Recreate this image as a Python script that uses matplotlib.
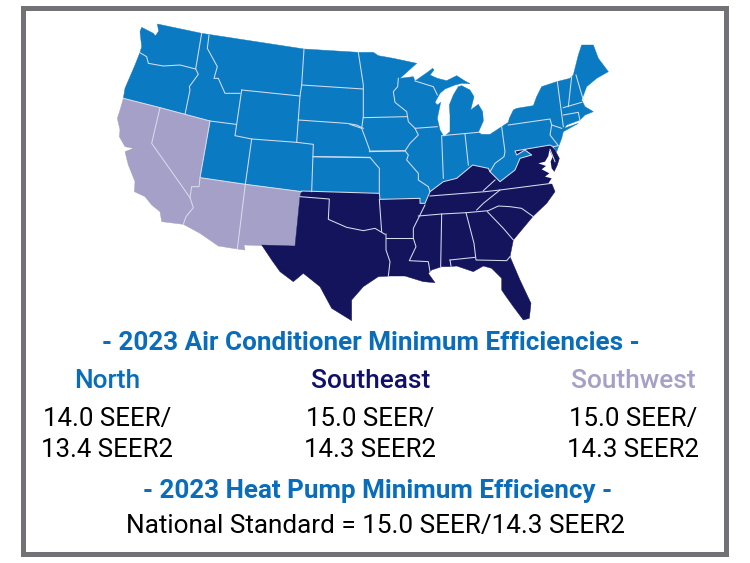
import matplotlib
matplotlib.use("Agg")
import matplotlib.pyplot as plt
from matplotlib.patches import Polygon, Rectangle

plt.rcParams['font.family'] = ['Roboto', 'DejaVu Sans']

NORTH_COLOR = '#0a7bc2'
SOUTHEAST_COLOR = '#13145c'
SOUTHWEST_COLOR = '#a5a0c8'
HEAD_COLOR = '#0a6dbb'
FRAME_COLOR = '#717176'
LINE_COLOR = '#d5dcec'

REGIONS = ['North', 'Southeast', 'Southwest']
REGION_COLORS = [HEAD_COLOR, '#10106a', SOUTHWEST_COLOR]
SEER = ['14.0 SEER/', '15.0 SEER/', '15.0 SEER/']
SEER2 = ['13.4 SEER2', '14.3 SEER2', '14.3 SEER2']
TITLE_AC = '- 2023 Air Conditioner Minimum Efficiencies -'
TITLE_HP = '- 2023 Heat Pump Minimum Efficiency -'
NATIONAL = 'National Standard = 15.0 SEER/14.3 SEER2'


def west(pts):
    return [(100 + x / 3, 15 + y / 3) for x, y in pts]

def east(pts):
    return [(350 + x / 3, 15 + y / 3) for x, y in pts]

def south(pts):
    return [(250 + x / 3, 140 + y / 3) for x, y in pts]

def bay(pts):
    return [(500 + x / 3, 130 + y / 3) for x, y in pts]


# boundary between north and southeast, going west from the Delaware bay
SHARED_N_SE = east([(610, 395), (600, 390), (495, 408), (500, 420), (525, 405), (545, 420), (510, 430),
                    (495, 465), (450, 500), (420, 470), (415, 460), (368, 450), (350, 465), (320, 490)]) + \
    south([(580, 125), (540, 155), (525, 190), (510, 190), (510, 175), (390, 178), (388, 160), (155, 153)])

NORTH_WEST = west([(605, 530), (436, 508), (300, 488), (330, 318), (180, 278), (70, 250), (75, 220), (90, 185),
                   (105, 150), (120, 112), (125, 95), (120, 50), (125, 37), (160, 55), (168, 65), (165, 85),
                   (150, 88), (150, 75), (165, 65), (176, 48), (172, 27), (305, 55), (612, 102), (775, 112)])
NORTH_EAST = east([(70, 112), (85, 122), (130, 130), (200, 145), (150, 190), (190, 185), (195, 198), (235, 170),
                   (248, 160), (252, 165), (240, 180), (262, 190), (290, 197), (320, 182), (345, 198), (360, 206),
                   (335, 205), (315, 210), (285, 222), (270, 235), (255, 262), (262, 270), (272, 262), (262, 310),
                   (270, 345), (282, 365), (300, 350), (300, 300), (298, 270), (310, 240), (325, 215), (335, 212),
                   (360, 225), (372, 245), (362, 285), (385, 268), (398, 290), (400, 318), (385, 352), (395, 358),
                   (420, 358), (455, 335), (475, 322), (478, 310), (490, 285), (500, 280), (550, 272), (560, 245),
                   (575, 215), (620, 200), (660, 190), (670, 180), (685, 120), (695, 90), (730, 90), (745, 130),
                   (775, 170), (740, 190), (710, 215), (695, 255), (705, 275), (730, 290), (705, 300), (690, 315),
                   (650, 330), (642, 340), (685, 325), (640, 350), (635, 370), (620, 410)])

SOUTHWEST = west([(70, 250), (60, 285), (52, 310), (60, 345), (58, 365), (75, 395), (100, 400), (75, 410), (85, 450),
                  (105, 500), (103, 530), (135, 545), (155, 570), (180, 590), (185, 620), (250, 628), (300, 655),
                  (355, 693), (412, 702), (435, 705), (432, 690), (485, 692), (585, 692), (600, 545), (605, 530),
                  (436, 508), (300, 488), (330, 318), (180, 278)])

SOUTHEAST_COAST = bay([(150, 45), (165, 60), (178, 85), (172, 105), (160, 130), (165, 160)]) + \
    south([(905, 130), (915, 155), (890, 190), (850, 228), (790, 300), (780, 350), (810, 420), (843, 490), (838, 535),
           (820, 540), (790, 500), (765, 465), (755, 450), (755, 415), (725, 385), (700, 378), (670, 395), (620, 378),
           (595, 380), (575, 380), (545, 390), (535, 400), (555, 428), (520, 425), (465, 408), (420, 408), (385, 410),
           (340, 440), (305, 480), (305, 542), (245, 505), (210, 440), (160, 400), (130, 425), (90, 395), (65, 360),
           (35, 315), (135, 318), (150, 170)])

CHESAPEAKE = bay([(148, 60), (145, 78), (135, 95), (115, 100), (138, 108), (125, 118), (148, 130), (135, 140),
                  (155, 145), (145, 160), (170, 165), (200, 140), (165, 128), (155, 115), (152, 95), (158, 80)])

BORDERS = [
    west([(118, 112), (140, 125), (145, 145), (190, 153), (240, 150), (287, 162)]),
    west([(305, 55), (287, 162), (295, 178), (268, 215), (270, 225), (255, 298)]),
    west([(327, 60), (322, 100), (352, 155), (342, 190), (355, 190), (375, 235), (420, 235)]),
    west([(425, 225), (405, 362), (455, 372), (590, 382), (640, 388), (635, 530)]),
    west([(425, 225), (600, 243)]),
    west([(612, 102), (605, 210), (600, 243), (590, 382)]),
    west([(605, 210), (790, 222)]),
    west([(595, 315), (740, 325), (770, 330), (790, 340)]),
    west([(455, 372), (436, 508)]),
    west([(330, 318), (408, 328)]),
    west([(640, 425), (810, 428)]),
    south([(190, 50), (360, 52), (375, 70), (388, 85), (388, 160)]),
    south([(358, 35), (465, 32), (475, 45), (470, 60), (505, 100), (505, 120), (535, 140), (540, 155)]),
    west([(180, 278), (155, 385), (270, 548), (280, 578), (258, 605), (250, 628)]),
    west([(300, 488), (297, 515), (275, 515), (270, 548)]),
    west([(436, 508), (412, 702)]),
    east([(25, 112), (40, 210), (40, 305), (35, 340), (50, 380), (60, 408), (165, 408), (180, 385), (205, 360), (195, 340)]),
    east([(0, 328), (35, 340)]),
    east([(40, 308), (170, 305)]),
    east([(145, 190), (143, 215), (130, 230), (135, 262), (170, 290), (175, 320), (195, 340), (262, 335)]),
    east([(275, 365), (280, 490)]),
    east([(275, 362), (385, 352)]),
    east([(345, 357), (355, 450)]),
    east([(455, 335), (465, 410), (462, 425), (435, 445), (420, 470)]),
    east([(195, 198), (250, 215), (262, 240)]),
    east([(475, 330), (600, 312), (605, 330), (635, 340)]),
    east([(622, 200), (640, 335)]),
    east([(665, 185), (655, 275)]),
    east([(678, 180), (700, 255)]),
    east([(640, 278), (695, 262)]),
    east([(640, 300), (685, 292), (690, 318)]),
    east([(605, 330), (600, 360), (625, 392), (610, 395)]),
    south([(150, 170), (238, 177), (235, 238), (290, 262), (340, 272), (375, 265), (405, 283)]),
    south([(388, 178), (395, 275)]),
    south([(408, 282), (408, 330), (420, 365), (415, 408)]),
    south([(408, 295), (490, 295)]),
    south([(525, 195), (510, 225), (490, 265), (490, 295), (498, 320), (478, 362), (535, 365), (540, 395)]),
    south([(540, 168), (705, 155), (750, 150), (905, 130)]),
    south([(700, 152), (735, 120)]),
    south([(750, 150), (700, 190), (680, 210)]),
    south([(505, 228), (575, 222), (650, 218), (715, 212), (745, 198), (780, 200), (815, 205), (850, 230)]),
    south([(575, 222), (572, 380)]),
    south([(648, 218), (672, 310), (678, 360), (770, 362), (780, 350)]),
    south([(600, 360), (675, 352)]),
    south([(600, 360), (603, 378)]),
    south([(712, 215), (760, 265), (790, 300)]),
    bay([(150, 58), (165, 95)]),
]

fig = plt.figure(figsize=(7.5, 5.63), dpi=100)
ax = fig.add_axes([0, 0, 1, 1])
ax.set_xlim(0, 750)
ax.set_ylim(563, 0)
ax.axis('off')

# frame
ax.add_patch(Rectangle((22.5, 7.5), 703, 546.5, fill=False, edgecolor=FRAME_COLOR, linewidth=3.6))

north = NORTH_WEST + NORTH_EAST + SHARED_N_SE
southeast = SOUTHEAST_COAST + SHARED_N_SE[::-1]
ax.add_patch(Polygon(north, closed=True, facecolor=NORTH_COLOR, edgecolor=NORTH_COLOR, linewidth=0.3))
ax.add_patch(Polygon(SOUTHWEST, closed=True, facecolor=SOUTHWEST_COLOR, edgecolor=SOUTHWEST_COLOR, linewidth=0.3))
ax.add_patch(Polygon(southeast, closed=True, facecolor=SOUTHEAST_COLOR, edgecolor=SOUTHEAST_COLOR, linewidth=0.3))
ax.add_patch(Polygon(CHESAPEAKE, closed=True, facecolor='white', edgecolor='none'))

for line in BORDERS:
    xs, ys = zip(*line)
    ax.plot(xs, ys, color=LINE_COLOR, linewidth=0.75, solid_joinstyle='round')

# shared edges of the three regions are state lines too
for line in [SHARED_N_SE, west([(605, 530), (436, 508), (300, 488), (330, 318), (180, 278), (70, 250)])]:
    xs, ys = zip(*line)
    ax.plot(xs, ys, color=LINE_COLOR, linewidth=0.75)

ax.text(370.5, 350, TITLE_AC, color=HEAD_COLOR, fontsize=18.7, fontweight='bold', ha='center', va='baseline')
col_x = [107, 370.5, 633]
for i in range(3):
    ax.text(col_x[i], 388, REGIONS[i], color=REGION_COLORS[i], fontsize=18.9, fontweight='medium', ha='center', va='baseline')
    ax.text(col_x[i], 426, SEER[i], color='black', fontsize=18.6, ha='center', va='baseline')
    ax.text(col_x[i], 457, SEER2[i], color='black', fontsize=18.6, ha='center', va='baseline')
ax.text(378, 498, TITLE_HP, color=HEAD_COLOR, fontsize=18.7, fontweight='bold', ha='center', va='baseline')
ax.text(375, 533, NATIONAL, color='black', fontsize=18.8, ha='center', va='baseline')

fig.savefig('out.png', dpi=100)
